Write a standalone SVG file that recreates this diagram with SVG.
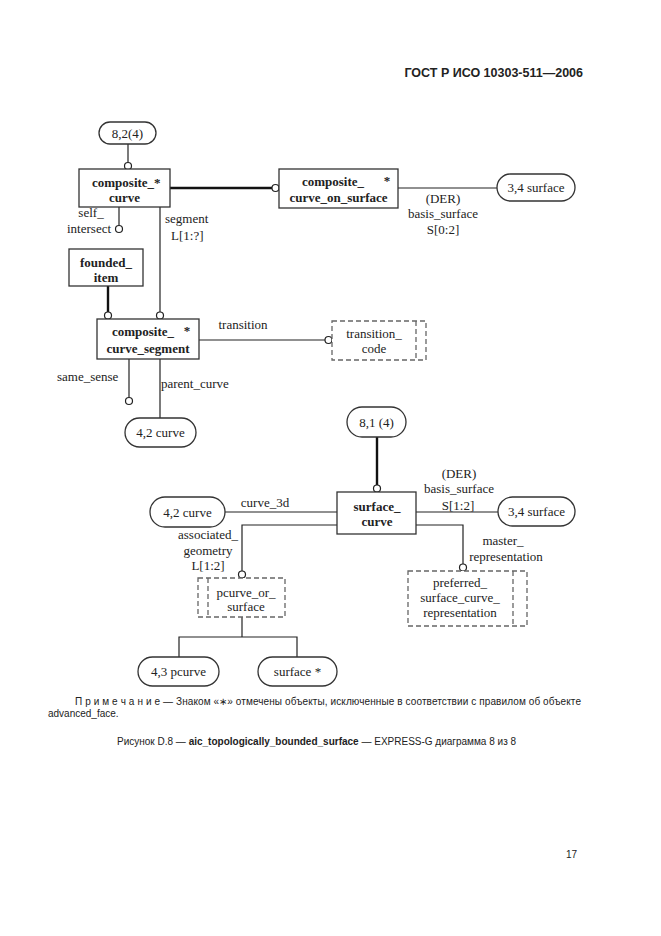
<svg xmlns="http://www.w3.org/2000/svg" width="661" height="936" viewBox="0 0 661 936">
<style>
.bg{fill:#fff}
.box{fill:#fff;stroke:#333;stroke-width:1.3}
.dbox{fill:#fff;stroke:#666;stroke-width:1.3;stroke-dasharray:5,3}
.dl{fill:none;stroke:#666;stroke-width:1.3;stroke-dasharray:5,3}
.ln{fill:none;stroke:#222;stroke-width:1.2}
.th{fill:none;stroke:#111;stroke-width:2.4}
.c{fill:#fff;stroke:#222;stroke-width:1.2}
.t{font-family:"Liberation Serif","Times New Roman",serif;font-size:13px;fill:#222}
.b{font-weight:bold}
.m{text-anchor:middle}
.e{text-anchor:end}
.s{font-family:"Liberation Sans",Arial,sans-serif;fill:#222}
</style>
<rect class="bg" x="0" y="0" width="661" height="936"/>
<text class="s b" x="583" y="77" text-anchor="end" font-size="12.5">ГОСТ Р ИСО 10303-511—2006</text>

<g id="connectors">
<line class="ln" x1="128" y1="144" x2="128" y2="162.5"/>
<line class="th" x1="170" y1="188" x2="272" y2="188"/>
<line class="ln" x1="398" y1="188" x2="497" y2="188"/>
<line class="ln" x1="119" y1="207" x2="119" y2="225.5"/>
<line class="ln" x1="160" y1="207" x2="160" y2="312"/>
<line class="th" x1="108" y1="286" x2="108" y2="312"/>
<line class="ln" x1="199" y1="340" x2="325" y2="340"/>
<line class="ln" x1="129" y1="359" x2="129" y2="397.5"/>
<line class="ln" x1="160" y1="359" x2="160" y2="418"/>
<line class="th" x1="377" y1="437" x2="377" y2="485"/>
<line class="ln" x1="225" y1="512" x2="337" y2="512"/>
<line class="ln" x1="416" y1="512" x2="498" y2="512"/>
<polyline class="ln" points="337,525 242,525 242,571"/>
<polyline class="ln" points="416,525 463,525 463,564"/>
<line class="ln" x1="242" y1="617" x2="242" y2="637"/>
<polyline class="ln" points="179,657 179,637 297,637 297,657"/>
<circle class="c" cx="128" cy="166" r="3.5"/>
<circle class="c" cx="275.5" cy="188" r="3.5"/>
<circle class="c" cx="119" cy="229" r="3.5"/>
<circle class="c" cx="108" cy="315.5" r="3.5"/>
<circle class="c" cx="160" cy="315.5" r="3.5"/>
<circle class="c" cx="328.5" cy="340" r="3.5"/>
<circle class="c" cx="129" cy="401" r="3.5"/>
<circle class="c" cx="377" cy="488.5" r="3.5"/>
<circle class="c" cx="242" cy="574.5" r="3.5"/>
<circle class="c" cx="463" cy="567.5" r="3.5"/>
<text class="t m" x="91" y="217">self_</text>
<text class="t" x="67" y="233">intersect</text>
<text class="t" x="165" y="223">segment</text>
<text class="t" x="171" y="240">L[1:?]</text>
<text class="t m" x="443" y="203">(DER)</text>
<text class="t m" x="443" y="218">basis_surface</text>
<text class="t m" x="443" y="234">S[0:2]</text>
<text class="t m" x="243" y="329">transition</text>
<text class="t" x="57" y="381">same_sense</text>
<text class="t" x="161" y="388">parent_curve</text>
<text class="t m" x="265" y="507">curve_3d</text>
<text class="t m" x="459" y="478">(DER)</text>
<text class="t m" x="459" y="493">basis_surface</text>
<text class="t m" x="458" y="510">S[1:2]</text>
<text class="t m" x="208" y="539">associated_</text>
<text class="t m" x="208" y="555">geometry</text>
<text class="t m" x="208" y="570">L[1:2]</text>
<text class="t m" x="503" y="545">master_</text>
<text class="t m" x="506" y="561">representation</text>
</g>

<g id="n_8_2_4">
<rect class="box" x="99" y="122" width="57" height="22" rx="11"/>
<text class="t m" x="127.5" y="138">8,2(4)</text>
</g>
<g id="composite_curve">
<rect class="box" x="79" y="169" width="91" height="38"/>
<text class="t b" x="92" y="187">composite_*</text>
<text class="t b m" x="124.5" y="202">curve</text>
</g>
<g id="composite_curve_on_surface">
<rect class="box" x="279" y="169" width="119" height="39"/>
<text class="t b m" x="333" y="186">composite_</text>
<text class="t b m" x="387" y="185">*</text>
<text class="t b m" x="338.5" y="202">curve_on_surface</text>
</g>
<g id="n_3_4_surface_top">
<rect class="box" x="497" y="174" width="78" height="27" rx="13.5"/>
<text class="t m" x="536" y="192">3,4 surface</text>
</g>
<g id="founded_item">
<rect class="box" x="69" y="249" width="74" height="37"/>
<text class="t b m" x="106" y="267">founded_</text>
<text class="t b m" x="106" y="282">item</text>
</g>
<g id="composite_curve_segment">
<rect class="box" x="97" y="319" width="102" height="40"/>
<text class="t b m" x="143" y="336">composite_</text>
<text class="t b m" x="187" y="335">*</text>
<text class="t b m" x="148" y="353">curve_segment</text>
</g>
<g id="transition_code">
<rect class="dbox" x="332" y="321" width="94" height="39"/>
<line class="dl" x1="416" y1="321" x2="416" y2="360"/>
<text class="t m" x="374" y="338">transition_</text>
<text class="t m" x="374" y="353">code</text>
</g>
<g id="n_4_2_curve_a">
<rect class="box" x="125" y="418" width="71" height="29" rx="14.5"/>
<text class="t m" x="160.5" y="437">4,2 curve</text>
</g>
<g id="n_8_1_4">
<rect class="box" x="347" y="407" width="59" height="30" rx="15"/>
<text class="t m" x="376.5" y="427">8,1 (4)</text>
</g>
<g id="surface_curve">
<rect class="box" x="337" y="492" width="79" height="42"/>
<text class="t b m" x="377" y="511">surface_</text>
<text class="t b m" x="377" y="526">curve</text>
</g>
<g id="n_4_2_curve_b">
<rect class="box" x="150" y="497" width="75" height="30" rx="15"/>
<text class="t m" x="187.5" y="517">4,2 curve</text>
</g>
<g id="n_3_4_surface_b">
<rect class="box" x="498" y="497" width="77" height="29" rx="14.5"/>
<text class="t m" x="536.5" y="516">3,4 surface</text>
</g>
<g id="pcurve_or_surface">
<rect class="dbox" x="198" y="578" width="87" height="39"/>
<line class="dl" x1="208" y1="578" x2="208" y2="617"/>
<text class="t m" x="246" y="597">pcurve_or_</text>
<text class="t m" x="246" y="611">surface</text>
</g>
<g id="preferred_surface_curve_representation">
<rect class="dbox" x="408" y="571" width="119" height="55"/>
<line class="dl" x1="513" y1="571" x2="513" y2="626"/>
<text class="t m" x="460" y="587">preferred_</text>
<text class="t m" x="460" y="602">surface_curve_</text>
<text class="t m" x="460" y="617">representation</text>
</g>
<g id="n_4_3_pcurve">
<rect class="box" x="138" y="657" width="81" height="29" rx="14.5"/>
<text class="t m" x="178.5" y="676">4,3 pcurve</text>
</g>
<g id="surface_star">
<rect class="box" x="258" y="657" width="79" height="29" rx="14.5"/>
<text class="t m" x="297.5" y="676">surface *</text>
</g>

<text class="s" x="75" y="705" font-size="10" textLength="506" lengthAdjust="spacing">П р и м е ч а н и е — Знаком «∗» отмечены объекты, исключенные в соответствии с правилом об объекте</text>
<text class="s" x="48" y="717" font-size="10">advanced_face.</text>
<text class="s" x="117" y="745" font-size="10">Рисунок D.8 — <tspan font-weight="bold">aic_topologically_bounded_surface</tspan> — EXPRESS-G диаграмма 8 из 8</text>
<text class="s" x="577" y="858" font-size="10" text-anchor="end">17</text>
</svg>
